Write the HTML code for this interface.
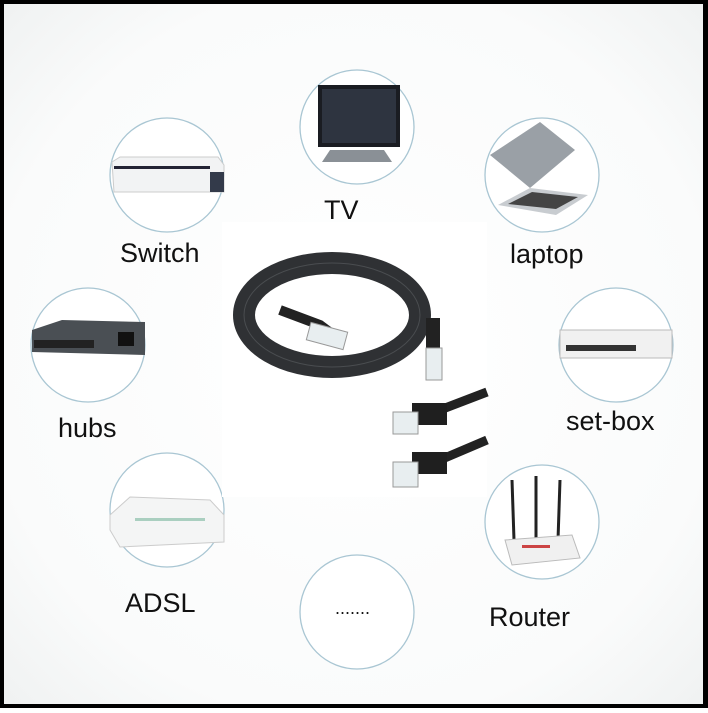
<!DOCTYPE html>
<html><head><style>
html,body{margin:0;padding:0;}
body{width:708px;height:708px;overflow:hidden;}
</style></head><body>
<svg width="708" height="708" viewBox="0 0 708 708" xmlns="http://www.w3.org/2000/svg" font-family="Liberation Sans, sans-serif">
<defs>
<radialGradient id="bg" cx="50%" cy="50%" r="70%">
<stop offset="0" stop-color="#ffffff"/><stop offset="0.75" stop-color="#fafbfb"/><stop offset="1" stop-color="#f0f2f2"/>
</radialGradient>
</defs>
<rect x="0" y="0" width="708" height="708" fill="#000"/>
<rect x="4" y="4" width="699" height="700" fill="url(#bg)"/>

<g fill="#fff" stroke="#a9c6d3" stroke-width="1.3">
<circle cx="357" cy="127" r="57"/>
<circle cx="167" cy="175" r="57"/>
<circle cx="542" cy="175" r="57"/>
<circle cx="88" cy="345" r="57"/>
<circle cx="616" cy="345" r="57"/>
<circle cx="167" cy="510" r="57"/>
<circle cx="357" cy="612" r="57"/>
<circle cx="542" cy="522" r="57"/>
</g>

<!-- TV -->
<rect x="318" y="85" width="82" height="62" fill="#1a1c22"/>
<rect x="322" y="89" width="74" height="54" fill="#2e3440"/>
<polygon points="330,150 384,150 392,162 322,162" fill="#8a9096"/>
<!-- Switch -->
<path d="M112 162 L120 157 L218 157 L224 165 L224 192 L114 192 Z" fill="#f2f3f4" stroke="#ccc"/>
<rect x="114" y="166" width="96" height="3" fill="#223"/>
<rect x="210" y="172" width="14" height="20" fill="#333a4a"/>
<!-- laptop -->
<polygon points="490,155 540,122 575,150 530,188" fill="#9aa0a6"/>
<polygon points="498,205 530,188 588,195 556,215" fill="#c8ccd0"/>
<polygon points="508,204 532,192 578,197 556,209" fill="#444"/>
<!-- hubs -->
<polygon points="32,330 62,320 145,322 145,355 32,352" fill="#4a4f54"/>
<rect x="34" y="340" width="60" height="8" fill="#222"/>
<rect x="118" y="332" width="16" height="14" fill="#111"/>
<!-- set-box -->
<rect x="560" y="330" width="112" height="28" fill="#f1f1f1" stroke="#bbb"/>
<rect x="566" y="345" width="70" height="6" fill="#333"/>
<!-- ADSL -->
<path d="M110 515 L130 497 L210 500 L224 515 L224 542 L120 547 L110 530 Z" fill="#f4f5f5" stroke="#ccc"/>
<rect x="135" y="518" width="70" height="3" fill="#aacfc0"/>
<!-- Router -->
<g stroke="#222" stroke-width="3"><line x1="512" y1="480" x2="514" y2="540"/><line x1="536" y1="476" x2="536" y2="540"/><line x1="560" y1="480" x2="558" y2="540"/></g>
<polygon points="505,540 572,535 580,558 512,565" fill="#f0f0f0" stroke="#bbb"/>
<rect x="522" y="545" width="28" height="3" fill="#c44"/>

<!-- center panel -->
<rect x="222" y="222" width="265" height="275" fill="#fff"/>
<ellipse cx="332" cy="315" rx="88" ry="52" fill="none" stroke="#2f3134" stroke-width="22"/>
<ellipse cx="332" cy="315" rx="88" ry="52" fill="none" stroke="#4a4d50" stroke-width="1"/>
<path d="M280 310 L320 325 L340 340" stroke="#222" stroke-width="10" fill="none"/>
<rect x="308" y="327" width="38" height="18" fill="#e8eef0" stroke="#999" transform="rotate(15 327 336)"/>
<rect x="426" y="318" width="14" height="32" fill="#222"/>
<rect x="426" y="348" width="16" height="32" fill="#e8eef0" stroke="#999"/>
<path d="M487 392 L440 410" stroke="#222" stroke-width="9"/>
<rect x="412" y="403" width="35" height="22" fill="#1f1f1f"/>
<rect x="393" y="412" width="25" height="22" fill="#e8eef0" stroke="#999"/>
<path d="M487 440 L440 460" stroke="#222" stroke-width="9"/>
<rect x="412" y="452" width="35" height="22" fill="#1f1f1f"/>
<rect x="393" y="462" width="25" height="25" fill="#e8eef0" stroke="#999"/>

<g font-size="27" fill="#111">
<text x="324" y="219">TV</text>
<text x="120" y="262">Switch</text>
<text x="510" y="263">laptop</text>
<text x="58" y="437">hubs</text>
<text x="566" y="430">set-box</text>
<text x="125" y="612">ADSL</text>
<text x="335" y="614" font-size="18">.......</text>
<text x="489" y="626">Router</text>
</g>
</svg>
</body></html>
